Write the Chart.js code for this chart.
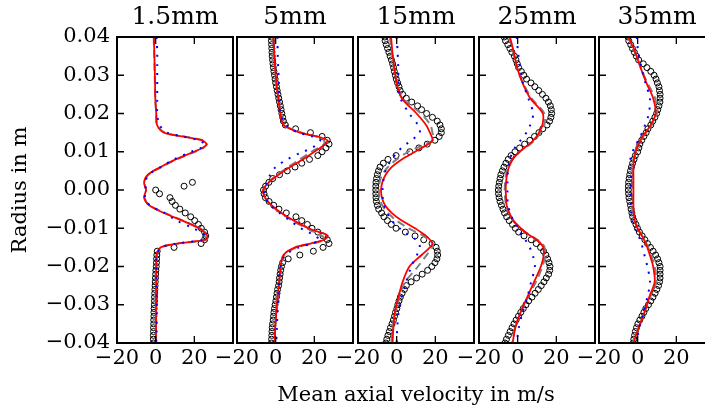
<!DOCTYPE html>
<html>
<head>
<meta charset="utf-8">
<script src="https://cdn.jsdelivr.net/npm/chart.js@4.4.1/dist/chart.umd.min.js"></script>
<style>
  html, body { margin: 0; padding: 0; background: #fff; overflow: hidden; }
  #wrap { position: relative; width: 705px; height: 413px; overflow: hidden; background: #fff; }
  #wrap canvas { position: absolute; left: 0; top: 0; }
</style>
</head>
<body>
<div id="wrap">
  <canvas id="p0" width="720" height="413"></canvas>
  <canvas id="p1" width="720" height="413"></canvas>
  <canvas id="p2" width="720" height="413"></canvas>
  <canvas id="p3" width="720" height="413"></canvas>
  <canvas id="p4" width="720" height="413"></canvas>
</div>
<script>
/* ===========================
   DATA
=========================== */
const panelTitles = ["1.5mm", "5mm", "15mm", "25mm", "35mm"];
const xTickValues = [-20, 0, 20];
const yTickValues = [0.04, 0.03, 0.02, 0.01, 0.0, -0.01, -0.02, -0.03, -0.04];
const xLabel = "Mean axial velocity in m/s";
const yLabel = "Radius in m";

// radial positions of the simulated profiles
const modelRadius = [0.040, 0.036, 0.032, 0.028, 0.024, 0.020, 0.017, 0.015, 0.014, 0.013,
  0.012, 0.011, 0.010, 0.008, 0.006, 0.004, 0.002, 0.000, -0.002, -0.004,
  -0.006, -0.008, -0.010, -0.011, -0.012, -0.013, -0.014, -0.015, -0.017, -0.020,
  -0.024, -0.028, -0.032, -0.036, -0.040];

// radial positions of the measurements
const measRadius = [0.040, 0.039, 0.038, 0.037, 0.036, 0.035, 0.034, 0.033, 0.032, 0.031,
  0.030, 0.029, 0.028, 0.027, 0.026, 0.025, 0.024, 0.023, 0.022, 0.021,
  0.020, 0.019, 0.018, 0.017, 0.016, 0.015, 0.014, 0.013, 0.012, 0.011,
  0.010, 0.009, 0.008, 0.007, 0.006, 0.005, 0.004, 0.003, 0.002, 0.001,
  0.000,
  -0.001, -0.002, -0.003, -0.004, -0.005, -0.006, -0.007, -0.008, -0.009, -0.010,
  -0.011, -0.012, -0.013, -0.014, -0.015, -0.016, -0.017, -0.018, -0.019, -0.020,
  -0.021, -0.022, -0.023, -0.024, -0.025, -0.026, -0.027, -0.028, -0.029, -0.030,
  -0.031, -0.032, -0.033, -0.034, -0.035, -0.036, -0.037, -0.038, -0.039, -0.040];
// at 1.5 mm only r <= 2 mm was measured
const measRadius1p5 = measRadius.slice(38);

// --- 1.5 mm
const expt_1p5 = [19.0, 14.7, 0.0,
  2.0, 7.4, 8.5, 10.2, 12.5, 15.3, 18.1, 20.2, 22.1, 23.6,
  25.3, 25.9, 25.3, 23.5, 9.5, 0.8, 0.6, 0.5, 0.4, 0.3,
  0.1, 0.0, -0.1, -0.2, -0.3, -0.4, -0.5, -0.6, -0.6, -0.7,
  -0.8, -0.9, -0.9, -1.0, -1.0, -1.1, -1.1, -1.2, -1.2, -1.2];
const red_1p5 = [-0.9, -0.7, -0.5, -0.3, -0.2, 0.3, 0.7, 4.3, 13.8, 24.0, 26.2, 24.1, 19.8, 10.3, 2.6, -4.0, -6.0, -5.0,
  -6.0, -3.4, 4.3, 13.8, 22.4, 25.0, 26.7, 25.9, 11.2, 2.6, 0.5, 0.3, 0.3, 0.2, 0.2, 0.2, 0.0];
const gray_1p5 = [-1.0, -0.8, -0.6, -0.4, -0.2, 0.3, 0.8, 4.8, 14.5, 24.5, 26.6, 24.6, 20.3, 10.8, 3.0, -3.8, -5.8, -5.0,
  -5.8, -3.2, 4.8, 14.2, 22.8, 25.4, 27.0, 26.2, 11.8, 3.0, 0.6, 0.3, 0.3, 0.2, 0.2, 0.2, 0.0];
const blue_1p5 = [0.5, 0.8, 0.8, 0.8, 0.8, 0.8, 2.0, 6.0, 14.0, 22.0, 25.5, 23.5, 18.5, 9.5, 2.5, -3.5, -5.5, -5.0,
  -5.5, -3.0, 4.5, 11.0, 19.5, 23.0, 25.5, 25.0, 11.0, 3.0, 0.6, 0.3, 0.3, 0.4, 0.6, 0.5, 0.3];

// --- 5 mm
const expt_5 = [-2.2, -2.2, -2.1, -2.0, -1.9, -1.8, -1.6, -1.4, -1.2, -0.9,
  -0.6, -0.3, 0.0, 0.4, 0.8, 1.2, 1.6, 2.0, 2.4, 2.8,
  3.2, 3.6, 4.0, 5.0, 10.3, 18.0, 24.0, 26.7, 27.6, 26.0,
  24.0, 21.8, 17.5, 13.5, 10.0, 6.0, 2.0, -1.5, -3.5, -5.2,
  -6.3,
  -6.0, -5.3, -3.4, -1.0, 1.7, 5.5, 10.5, 13.5, 16.4, 18.8,
  21.8, 24.5, 26.7, 27.6, 24.5, 19.5, 12.5, 6.5, 3.6, 3.0,
  2.6, 2.3, 2.0, 1.8, 1.5, 1.0, 0.7, 0.4, 0.1, -0.3,
  -0.6, -0.9, -1.1, -1.3, -1.6, -1.8, -1.9, -2.0, -2.1, -2.2];
const red_5 = [-1.2, -0.8, -0.3, 0.4, 1.3, 2.5, 4.0, 12.5, 21.5, 26.8, 25.5, 23.0, 20.0, 14.0, 7.5, 1.5, -3.5, -6.5,
  -5.5, -2.0, 3.0, 9.5, 17.0, 22.5, 27.0, 25.0, 18.0, 10.0, 4.0, 2.6, 1.8, 1.0, 0.3, -0.2, -0.5];
const gray_5 = [-1.5, -1.0, -0.4, 0.5, 1.5, 2.8, 4.5, 13.5, 21.0, 25.0, 25.0, 22.0, 18.5, 12.5, 6.5, 1.0, -3.8, -6.3,
  -5.5, -2.5, 2.5, 8.5, 16.0, 20.0, 24.0, 25.5, 19.0, 11.0, 4.5, 2.8, 2.0, 1.2, 0.4, -0.2, -0.6];
const blue_5 = [1.0, 1.0, 1.3, 1.7, 1.8, 2.5, 5.5, 12.0, 19.0, 23.0, 21.0, 19.0, 14.0, 6.0, 0.0, -2.8, -4.5, -6.0,
  -5.5, -2.5, 2.0, 7.5, 13.0, 17.0, 20.0, 23.0, 19.0, 12.0, 5.0, 2.5, 1.8, 1.5, 1.0, 0.6, 0.3];

// --- 15 mm
const expt_15 = [-6.2, -6.0, -5.4, -4.7, -4.0, -3.4, -2.7, -2.1, -1.6, -1.2,
  -0.7, -0.2, 0.5, 1.2, 1.8, 3.1, 5.0, 7.8, 10.8, 12.9,
  15.5, 18.5, 21.0, 22.4, 23.1, 23.1, 22.0, 19.8, 15.8, 11.5,
  6.8, -0.3, -4.5, -6.9, -8.6, -9.4, -10.0, -10.4, -10.7, -10.8,
  -10.8,
  -10.8, -10.7, -10.5, -10.0, -9.3, -7.8, -6.6, -4.8, -2.8, -0.3,
  4.5, 9.5, 14.0, 18.3, 20.4, 21.0, 21.2, 20.8, 19.8, 18.2,
  16.0, 13.2, 10.3, 7.5, 5.0, 4.0, 2.8, 1.9, 1.2, 0.6,
  0.1, -0.6, -1.1, -1.7, -2.4, -3.2, -3.8, -4.5, -5.1, -5.6];
const red_15 = [-2.9, -2.2, -1.2, 0.0, 2.6, 10.3, 15.2, 17.2, 18.1, 18.6, 16.4, 12.9, 9.5, 2.6, -2.6, -5.7, -7.4, -8.1,
  -7.6, -6.0, -2.6, 2.6, 9.5, 12.4, 15.2, 17.2, 18.6, 17.2, 12.9, 6.6, 3.1, 0.9, -0.9, -1.7, -2.1];
const gray_15 = [-3.5, -2.5, -1.3, 0.2, 3.0, 12.5, 17.5, 18.5, 19.0, 18.8, 15.0, 10.5, 6.0, 0.0, -4.5, -7.5, -8.8, -9.2,
  -8.8, -7.5, -4.5, 0.0, 6.0, 10.0, 14.0, 16.5, 18.5, 18.5, 15.5, 11.0, 4.5, 1.2, -0.8, -2.0, -2.8];
const blue_15 = [0.0, 0.5, 0.8, 1.0, 2.0, 6.5, 11.0, 12.0, 10.0, 8.0, 5.0, 2.5, 0.5, -2.5, -5.0, -6.3, -7.0, -7.3,
  -7.2, -6.5, -5.0, -2.5, 1.5, 4.0, 7.0, 10.0, 11.5, 12.0, 10.5, 7.5, 5.0, 2.5, 1.0, 0.3, 0.0];

// --- 25 mm
const expt_25 = [-7.0, -6.3, -5.1, -4.0, -3.0, -1.7, -0.9, -0.2, 0.5, 1.9,
  3.2, 4.6, 6.9, 8.9, 10.9, 12.8, 14.6, 15.9, 16.9, 17.4,
  17.6, 17.2, 16.5, 15.2, 13.0, 11.0, 8.7, 6.3, 3.6, 1.0,
  -1.4, -3.4, -4.9, -6.1, -7.1, -7.9, -8.7, -9.1, -9.5, -9.8,
  -10.0,
  -9.9, -9.6, -9.1, -8.4, -7.6, -6.8, -5.7, -4.4, -2.7, -1.2,
  0.5, 3.3, 7.0, 9.6, 11.8, 13.4, 14.6, 15.5, 16.2, 16.7,
  16.6, 16.0, 14.8, 13.6, 12.2, 10.7, 9.0, 7.4, 5.7, 4.3,
  2.9, 1.6, 0.4, -0.8, -1.9, -2.9, -3.9, -4.8, -5.8, -6.6];
const red_25 = [-4.0, -2.0, -0.3, 2.5, 6.5, 13.0, 12.8, 11.0, 9.8, 8.1, 6.0, 3.4, 0.9, -2.6, -4.5, -5.5, -6.0, -6.2,
  -6.0, -5.7, -4.3, -2.2, 1.6, 3.8, 6.7, 9.8, 12.0, 13.2, 13.5, 12.0, 8.5, 5.0, 1.5, -1.2, -2.6];
const gray_25 = [-4.3, -2.3, -0.3, 2.8, 7.2, 13.8, 13.8, 11.8, 10.5, 8.8, 6.5, 3.8, 1.2, -2.6, -4.8, -6.0, -6.5, -6.7,
  -6.5, -6.0, -4.6, -2.4, 1.6, 4.0, 7.0, 10.2, 12.6, 13.9, 14.3, 12.8, 9.5, 5.2, 1.6, -1.3, -3.0];
const blue_25 = [-0.5, 0.2, 1.3, 2.8, 5.5, 8.0, 6.5, 4.5, 3.0, 1.5, 0.0, -1.5, -2.6, -4.0, -4.8, -5.2, -5.3, -5.3,
  -5.3, -5.0, -3.8, -2.2, 0.0, 1.3, 2.5, 4.0, 5.0, 6.2, 7.8, 8.9, 7.0, 5.0, 2.5, 0.6, -0.5];

// --- 35 mm
const expt_35 = [-5.0, -4.6, -3.6, -2.7, -1.7, -0.7, 0.5, 2.9, 4.8, 6.8,
  8.5, 9.5, 10.2, 11.0, 11.3, 11.6, 11.6, 11.5, 11.0, 10.4,
  9.8, 8.9, 7.8, 6.8, 5.3, 4.4, 3.2, 2.1, 1.1, 0.6,
  0.0, -1.2, -1.9, -2.6, -3.2, -3.7, -4.1, -4.4, -4.7, -4.8,
  -4.8,
  -4.7, -4.5, -4.1, -3.7, -3.4, -3.0, -2.6, -1.9, -0.9, -0.1,
  0.9, 2.3, 3.7, 5.1, 6.6, 8.0, 9.3, 10.3, 11.0, 11.6,
  11.6, 11.6, 11.6, 11.3, 10.8, 9.9, 9.0, 7.9, 6.8, 5.6,
  4.2, 3.2, 2.2, 1.1, 0.1, -0.6, -1.2, -1.6, -2.0, -2.3];
const red_35 = [-4.8, -1.2, 1.5, 4.5, 8.0, 9.3, 6.8, 4.0, 2.5, 1.5, 0.5, -0.3, -1.0, -1.9, -2.2, -2.2, -2.2, -2.2,
  -2.2, -2.2, -2.0, -1.5, 0.0, 1.0, 2.2, 3.3, 4.2, 5.0, 6.3, 8.0, 8.8, 6.0, 3.5, 0.5, -2.2];
const gray_35 = [-5.0, -1.4, 1.6, 5.0, 9.0, 10.0, 7.3, 4.4, 2.8, 1.6, 0.4, -0.5, -1.2, -2.2, -2.6, -2.6, -2.6, -2.6,
  -2.6, -2.5, -2.3, -1.7, 0.0, 1.1, 2.4, 3.5, 4.5, 5.4, 6.9, 8.8, 9.6, 6.4, 3.6, 0.4, -2.6];
const blue_35 = [-0.5, 0.3, 2.0, 4.0, 6.3, 5.8, 3.8, 2.3, 1.3, 0.3, -0.8, -1.8, -2.6, -3.8, -3.8, -3.6, -3.6, -3.6,
  -3.6, -3.5, -3.3, -3.0, -1.4, -0.5, 0.5, 1.3, 2.0, 2.5, 3.5, 5.0, 6.4, 5.0, 3.0, 0.8, -0.5];

/* ===========================
   LAYOUT / STYLE
=========================== */
const FONT = "'DejaVu Serif', serif";
Chart.defaults.font.family = FONT;
Chart.defaults.color = "#000";

const CANVAS_W = 720;
const panelLeft = [117, 237, 358, 479, 599];
const panelWidth = 116;

const panels = [
  { measR: measRadius1p5, expt: expt_1p5, red: red_1p5, gray: gray_1p5, blue: blue_1p5 },
  { measR: measRadius, expt: expt_5, red: red_5, gray: gray_5, blue: blue_5 },
  { measR: measRadius, expt: expt_15, red: red_15, gray: gray_15, blue: blue_15 },
  { measR: measRadius, expt: expt_25, red: red_25, gray: gray_25, blue: blue_25 },
  { measR: measRadius, expt: expt_35, red: red_35, gray: gray_35, blue: blue_35 }
];

function minus(s) { return s.replace("-", "\u2212"); }
function fmtX(v) { return minus(String(v)); }
function fmtY(v) { return minus((Math.abs(v) < 1e-9 ? 0 : v).toFixed(2)); }

function toPoints(radius, vals) {
  return vals.map((v, i) => ({ x: v, y: radius[i] }));
}

// box round each panel + inward ticks on all four sides
const frameTicks = {
  id: "frameTicks",
  afterDatasetsDraw(chart) {
    const { ctx, chartArea: a, scales: { x, y } } = chart;
    const len = 7;
    ctx.save();
    ctx.strokeStyle = "#000";
    ctx.lineWidth = 1.3;
    ctx.beginPath();
    yTickValues.forEach(v => {
      const py = y.getPixelForValue(v);
      ctx.moveTo(a.left, py); ctx.lineTo(a.left + len, py);
      ctx.moveTo(a.right, py); ctx.lineTo(a.right - len, py);
    });
    xTickValues.forEach(v => {
      const px = x.getPixelForValue(v);
      ctx.moveTo(px, a.top); ctx.lineTo(px, a.top + len);
      ctx.moveTo(px, a.bottom); ctx.lineTo(px, a.bottom - len);
    });
    ctx.stroke();
    ctx.lineWidth = 2;
    ctx.strokeRect(a.left, a.top, a.right - a.left, a.bottom - a.top);
    ctx.restore();
  }
};

// the shared velocity label sits under the middle panel; the axis title
// would be squeezed to the panel width, so it is written here instead
const sharedXLabel = {
  id: "sharedXLabel",
  afterDraw(chart, args, opts) {
    if (!opts.text) return;
    const { ctx, chartArea: a } = chart;
    ctx.save();
    ctx.fillStyle = "#000";
    ctx.font = "21px " + FONT;
    ctx.textAlign = "center";
    ctx.textBaseline = "middle";
    ctx.fillText(opts.text, (a.left + a.right) / 2, a.bottom + 53);
    ctx.restore();
  }
};

function buildPanel(i) {
  const p = panels[i];
  const first = i === 0;
  return new Chart(document.getElementById("p" + i), {
    type: "scatter",
    data: {
      datasets: [
        {
          data: toPoints(p.measR, p.expt),
          showLine: false,
          pointStyle: "circle",
          pointRadius: 3,
          pointBorderWidth: 1,
          pointBorderColor: "#000",
          pointBackgroundColor: "rgba(0,0,0,0)",
          order: 3
        },
        {
          data: toPoints(modelRadius, p.gray),
          showLine: true,
          borderColor: "#808080",
          borderWidth: 2,
          borderDash: [8, 5],
          pointRadius: 0,
          tension: 0.3,
          order: 2
        },
        {
          data: toPoints(modelRadius, p.red),
          showLine: true,
          borderColor: "#ff0000",
          borderWidth: 1.8,
          pointRadius: 0,
          tension: 0.3,
          order: 1
        },
        {
          data: toPoints(modelRadius, p.blue),
          showLine: true,
          borderColor: "#0000ff",
          borderWidth: 2,
          borderDash: [2, 7],
          pointRadius: 0,
          tension: 0.3,
          order: 0
        }
      ]
    },
    options: {
      responsive: false,
      animation: false,
      events: [],
      layout: {
        padding: {
          left: first ? 0 : panelLeft[i],
          right: CANVAS_W - panelLeft[i] - panelWidth,
          top: 0,
          bottom: 0
        }
      },
      plugins: {
        legend: { display: false },
        tooltip: { enabled: false },
        title: {
          display: true,
          text: panelTitles[i],
          fullSize: false,
          color: "#000",
          font: { family: FONT, size: 25, weight: "normal" },
          padding: { top: 2, bottom: 5 }
        },
        sharedXLabel: { text: i === 2 ? xLabel : "" }
      },
      scales: {
        x: {
          type: "linear",
          min: -20,
          max: 40,
          grid: { display: false, drawTicks: false },
          border: { display: false },
          afterBuildTicks: s => { s.ticks = xTickValues.map(v => ({ value: v })); },
          afterFit: s => { s.height = 70; },
          ticks: {
            font: { size: 21 },
            color: "#000",
            padding: 3,
            maxRotation: 0,
            autoSkip: false,
            callback: v => fmtX(v)
          }
        },
        y: {
          type: "linear",
          min: -0.04,
          max: 0.04,
          display: first,
          grid: { display: false, drawTicks: false },
          border: { display: false },
          afterBuildTicks: s => { s.ticks = yTickValues.map(v => ({ value: v })); },
          // only the first panel carries the radius labels
          afterFit: s => { s.width = first ? panelLeft[0] : 0; },
          ticks: {
            font: { size: 21 },
            color: "#000",
            padding: 7,
            autoSkip: false,
            callback: v => fmtY(v)
          },
          title: {
            display: first,
            text: yLabel,
            color: "#000",
            font: { size: 21 },
            padding: { top: 8 }
          }
        }
      }
    },
    plugins: [frameTicks, sharedXLabel]
  });
}

panelTitles.forEach((t, i) => buildPanel(i));
</script>
</body>
</html>
